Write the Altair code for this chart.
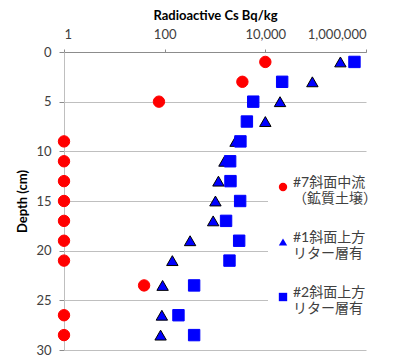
import altair as alt
import pandas as pd

series_names = ["#7斜面中流\n（鉱質土壌）", "#1斜面上方\nリター層有", "#2斜面上方\nリター層有"]

depth_red = [1, 3, 5, 9, 11, 13, 15, 17, 19, 21, 23.5, 26.5, 28.5]
value_red = [10000, 3500, 77, 1, 1, 1, 1, 1, 1, 1, 39, 1, 1]

depth_blue = [1, 3, 5, 7, 9, 11, 13, 15, 17, 19, 21, 23.5, 26.5, 28.5]
value_tri = [310000, 86000, 19600, 10000, 2560, 1540, 1170, 1020, 920, 320, 142, 91, 88, 83]
value_sq = [590000, 21600, 5750, 4300, 3200, 2000, 2030, 3160, 1660, 3020, 1940, 385, 188, 385]

x_ticks = [1, 100, 10000, 1000000]
y_ticks = [0, 5, 10, 15, 20, 25, 30]

rows = []
for d, v in zip(depth_red, value_red):
    rows.append({"series": series_names[0], "depth": d, "value": v})
for d, v in zip(depth_blue, value_tri):
    rows.append({"series": series_names[1], "depth": d, "value": v})
for d, v in zip(depth_blue, value_sq):
    rows.append({"series": series_names[2], "depth": d, "value": v})
df = pd.DataFrame(rows)

font = "Lato, 'Noto Sans CJK JP', sans-serif"

legend = alt.Legend(title=None, orient="none", legendX=204, legendY=120,
                    fillColor="white", padding=8, symbolSize=70,
                    labelExpr="split(datum.label, '\\n')",
                    labelBaseline="alphabetic", labelOffset=3,
                    labelFontSize=14, labelColor="#404040", labelFont=font,
                    rowPadding=25, symbolStrokeWidth=0)

chart = alt.Chart(df).mark_point(filled=True, opacity=1, strokeWidth=1, size=130).encode(
    x=alt.X("value:Q",
            scale=alt.Scale(type="log", domain=[1, 1000000], nice=False),
            axis=alt.Axis(orient="top", values=x_ticks, format=",", title="Radioactive Cs Bq/kg",
                          grid=False, tickSize=3, labelPadding=8, titlePadding=6,
                          domainColor="#8c8c8c", tickColor="#8c8c8c")),
    y=alt.Y("depth:Q",
            scale=alt.Scale(domain=[0, 30], reverse=True, nice=False, zero=False),
            axis=alt.Axis(values=y_ticks, title="Depth (cm)", grid=True, gridColor="#bfbfbf",
                          tickSize=5, labelPadding=8, titlePadding=6,
                          domainColor="#bfbfbf", tickColor="#8c8c8c")),
    shape=alt.Shape("series:N", sort=series_names,
                    scale=alt.Scale(domain=series_names, range=["circle", "triangle-up", "square"]),
                    legend=legend),
    color=alt.Color("series:N", sort=series_names,
                    scale=alt.Scale(domain=series_names, range=["#ff0000", "#0000ff", "#0000ff"]),
                    legend=legend),
    stroke=alt.Stroke("series:N", sort=series_names,
                      scale=alt.Scale(domain=series_names, range=["#ff0000", "#000000", "#0000ff"]),
                      legend=None),
).properties(
    width=302, height=298,
    padding={"left": 56, "top": 44, "right": 23, "bottom": 8},
    autosize=alt.AutoSizeParams(type="none"),
).configure_view(stroke=None).configure_axis(
    labelFont=font, titleFont=font, labelFontSize=13, titleFontSize=13,
    labelColor="#404040", titleColor="#000000", titleFontWeight="bold"
)

chart.save("out.html", embed_options={"renderer": "svg", "actions": False})
